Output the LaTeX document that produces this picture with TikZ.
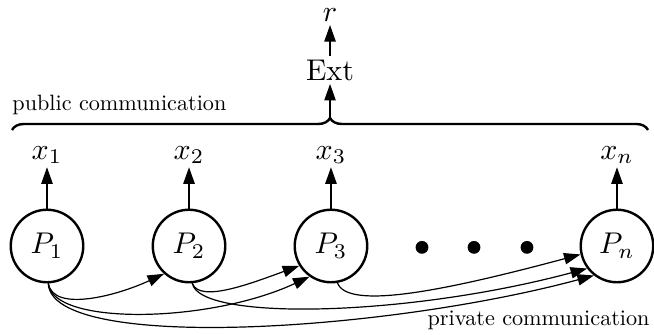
\documentclass[tikz,border=0pt]{standalone}
\usepackage{amsmath, amssymb}
\usetikzlibrary{arrows.meta, positioning, calc, decorations.pathreplacing}

\tikzset{
  party/.style={draw, thick, circle, minimum size=0.85cm, inner sep=0pt},
  dotnode/.style={fill, circle, minimum size=0.15cm, inner sep=0pt},
  tip/.style={-{Triangle[length=5.5pt, width=3.8pt]}},
  msg/.style={-{Triangle[length=5.5pt, width=3.8pt]}},
  note/.style={scale=0.74, inner sep=0pt}
}

\begin{document}
\begin{tikzpicture}
  \useasboundingbox (0,0) rectangle (7.667,-3.916);
  % parties
  \node[party] (p1) at (0.551,-2.884) {$P_1$};
  \node[party] (p2) at (2.216,-2.884) {$P_2$};
  \node[party] (p3) at (3.880,-2.884) {$P_3$};
  \node[party] (pn) at (7.233,-2.884) {$P_n$};
  \node[dotnode] (d1) at (4.947,-2.9) {};
  \node[dotnode] (d2) at (5.557,-2.9) {};
  \node[dotnode] (d3) at (6.178,-2.9) {};
  % outputs
  \node[inner sep=1pt] (x1) at (0.551,-1.817) {$x_1$};
  \node[inner sep=1pt] (x2) at (2.216,-1.817) {$x_2$};
  \node[inner sep=1pt] (x3) at (3.880,-1.817) {$x_3$};
  \node[inner sep=1pt] (xn) at (7.233,-1.817) {$x_n$};
  \draw[tip] (p1) -- (x1);
  \draw[tip] (p2) -- (x2);
  \draw[tip] (p3) -- (x3);
  \draw[tip] (pn) -- (xn);
  % public part
  \draw[thick, decorate, decoration={brace, amplitude=4pt}] (0.141,-1.524) -- (7.597,-1.524);
  \coordinate (brtip) at (3.869,-1.383);
  \node[note, anchor=west] (pub) at (0.141,-1.231) {public communication};
  \node[inner sep=1pt] (ext) at (3.869,-0.821) {Ext};
  \node[inner sep=1pt] (r) at (3.869,-0.176) {$r$};
  \draw[tip] (brtip) -- (ext);
  \draw[tip] (ext) -- (r);
  % private part
  \draw[msg] (p1.-88) .. controls +(-80:0.35) and +(205:0.6) .. (p2.228);
  \draw[msg] (p1.-88) .. controls +(-85:0.5) and +(205:1.3) .. (p3.235);
  \draw[msg] (p1.-88) .. controls +(-88:0.8) and +(195:2.6) .. (pn.232);
  \draw[msg] (p2.-85) .. controls +(-70:0.25) and +(200:0.6) .. (p3.212);
  \draw[msg] (p2.-85) .. controls +(-80:0.45) and +(195:2.2) .. (pn.217);
  \draw[msg] (p3.-80) .. controls +(-70:0.35) and +(195:1.6) .. (pn.193);
  \node[note, anchor=east] (priv) at (7.62,-3.75) {private communication};
\end{tikzpicture}
\end{document}
